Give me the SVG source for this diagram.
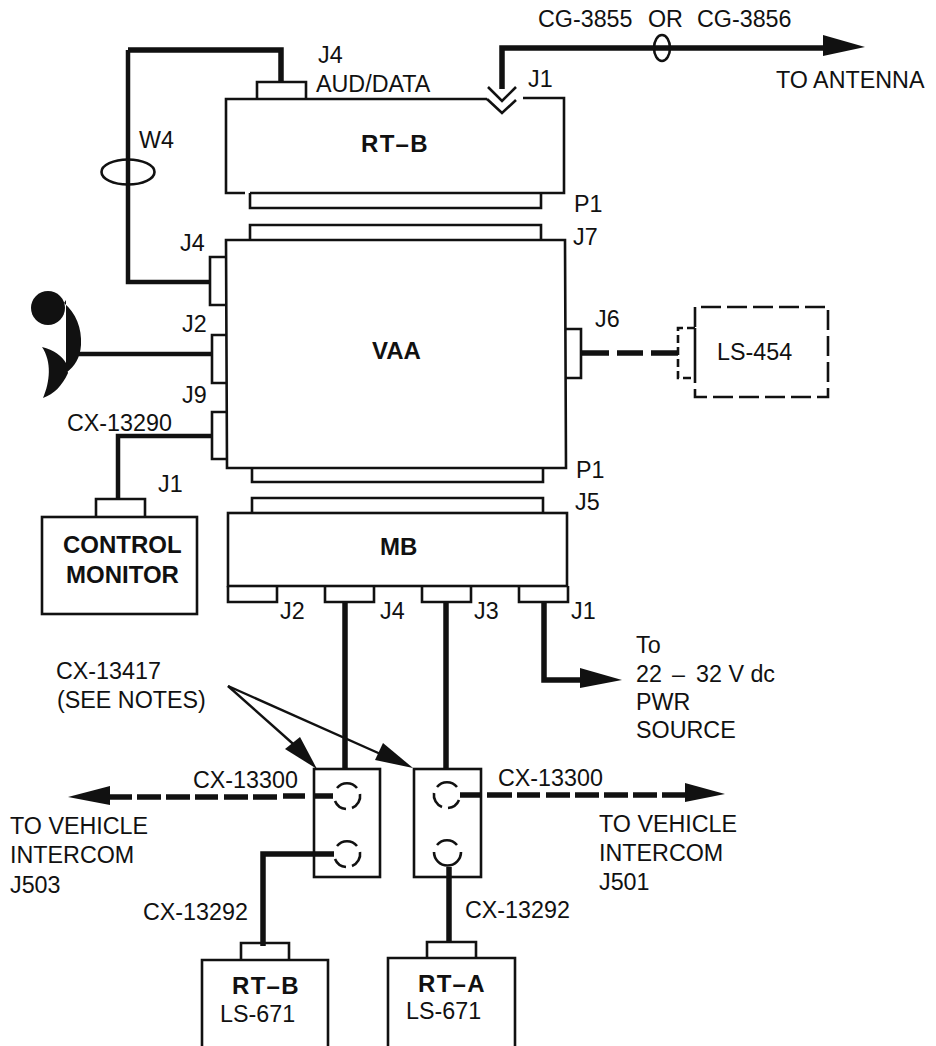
<svg xmlns="http://www.w3.org/2000/svg" width="936" height="1046" viewBox="0 0 936 1046">
<defs>
<style>
text{font-family:"Liberation Sans",Arial,sans-serif;font-size:23.3px;fill:#111}
.b{font-weight:bold;font-size:24px}
.rt{letter-spacing:1.3px}
.box{fill:none;stroke:#111;stroke-width:2.6}
.c{fill:none;stroke:#111;stroke-width:4.500}
.t{fill:none;stroke:#111;stroke-width:5.500}
.l{fill:none;stroke:#111;stroke-width:2.400}
.a{fill:#111;stroke:none}
.dash{stroke-dasharray:8 4}
</style>
<path id="jack" class="box" d="M-10-8A13 13 0 0 1 10-8M13-2A13 13 0 0 1 5 12M-1 13A13 13 0 0 1-12 5"/>
</defs>
<rect width="936" height="1046" fill="#fff"/>
<g id="connectors">
<path class="t" d="M281 82V50H128"/>
<path class="c" d="M128 50V282H210"/>
<ellipse cx="128" cy="172" rx="26.500" ry="12.500" class="box"/>
<path class="t" d="M502 89V48H830"/>
<path class="a" d="M823 35L865 47L823 56Z"/>
<ellipse cx="662" cy="48" rx="8" ry="13" class="box"/>
<path class="c" d="M78 354H211"/>
<path class="c" d="M213 436H118V499"/>
<path class="t" d="M581 353H609M617 353H643M651 353H678"/>
<path class="t" d="M345 602V770"/>
<path class="t" d="M446 602V769"/>
<path class="t" d="M544 602V680H590"/>
<path class="a" d="M580 668L622 680L580 688Z"/>
<path class="t" d="M333 796H313M305 796H283M277 797H253M248 797H224M218 797H195M190 797H166M161 797H137M132 797H108"/>
<path class="a" d="M68 797L110 786V805Z"/>
<path class="t" d="M334 854H263V946"/>
<path class="t" d="M460 795H482M487 795H512M517 795H540M546 795H570M575 795H599M604 795H628M633 795H657M662 795H690"/>
<path class="a" d="M725 794L685 783V802Z"/>
<path class="t" d="M449 867V943"/>
<path class="l" d="M228 686L300 750"/>
<path class="l" d="M228 686L385 756"/>
<path class="a" d="M317 769L285 749L300 737Z"/>
<path class="a" d="M413 768L375 760L383 743Z"/>
</g>
<g id="rtb-main"><path class="box" d="M487 99H226V193H245M250 193H564V98H523"/><path class="box" d="M257 99V82H306V99"/><path class="box" d="M250 193V208H541V193"/><path class="box" d="M488 87L502 101L516 87M487 99L502 113L516 100"/><text x="361" y="152" class="b rt">RT–B</text></g>
<g id="vaa"><path class="box" d="M226 240H565L566 468H227Z"/><path class="box" d="M250 240V225H541V240"/><path class="box" d="M226 257H210V305H226M226 335H212V383H226M227 412H212V459H227"/><path class="box" d="M566 329H581V378H566"/><path class="box" d="M252 468V482H543V468"/><text x="372" y="359" class="b">VAA</text></g>
<g id="ls454"><path class="box" d="M695 327V307H828V397H695V378" stroke-dasharray="20 6"/><path class="box dash" d="M695 328H678V378H695"/><path class="box" d="M695 328V378"/><text x="717" y="360">LS-454</text></g>
<g id="control-monitor"><rect class="box" x="42" y="517" width="155" height="97"/><path class="box" d="M96 517V499H145V517"/><text x="63" y="553" class="b">CONTROL</text><text x="66" y="583" class="b">MONITOR</text></g>
<g id="mb"><rect class="box" x="228" y="513" width="339" height="73"/><path class="box" d="M252 513V498H543V513"/><path class="box" d="M228 586V602H277V586M325 586V602H374V586M422 586V602H471V586M519 586V602H568V586"/><text x="380" y="555" class="b">MB</text></g>
<g id="mic"><circle cx="48" cy="308" r="17" class="a"/><path class="a" d="M64 303C76 313 82 328 81 345C80 358 75 366 66 373V300ZM42 347C54 350 62 356 66 363L68 373C62 386 54 394 43 398C50 382 52 362 42 347Z"/></g>
<g id="jb1"><rect class="box" x="314" y="769" width="66" height="108"/><use href="#jack" x="347" y="796"/><use href="#jack" x="347" y="854"/></g>
<g id="jb2"><rect class="box" x="414" y="769" width="67" height="108"/><use href="#jack" transform="translate(447 795) scale(-1 1)"/><path class="box" d="M437 845A13 13 0 0 1 457 845M434 852A13.500 13.500 0 0 0 461 852"/></g>
<g id="rtb-ls"><path class="box" d="M202 1046V960H328V1046"/><path class="box" d="M241 960V943H289V960"/><text x="232" y="994" class="b rt">RT–B</text><text x="220" y="1022">LS-671</text></g>
<g id="rta-ls"><path class="box" d="M388 1046V958H515V1046"/><path class="box" d="M427 958V942H476V958"/><text x="418" y="992" class="b rt">RT–A</text><text x="406" y="1019">LS-671</text></g>
<g id="labels">
<text x="538" y="27">CG-3855</text><text x="648" y="27">OR</text><text x="697" y="27">CG-3856</text>
<text x="776" y="88">TO ANTENNA</text>
<text x="318" y="63">J4</text><text x="316" y="92">AUD/DATA</text><text x="528" y="87">J1</text>
<text x="139" y="148">W4</text><text x="574" y="212">P1</text><text x="573" y="245">J7</text>
<text x="180" y="251">J4</text><text x="182" y="332">J2</text><text x="182" y="403">J9</text><text x="67" y="431">CX-13290</text><text x="595" y="327">J6</text>
<text x="576" y="478">P1</text><text x="575" y="510">J5</text><text x="158" y="492">J1</text>
<text x="280" y="619">J2</text><text x="380" y="619">J4</text><text x="474" y="619">J3</text><text x="571" y="619">J1</text>
<text x="636" y="653">To</text><text x="636" y="682">22 <tspan x="672">–</tspan> <tspan x="696">32 V dc</tspan></text><text x="636" y="710">PWR</text><text x="636" y="738">SOURCE</text>
<text x="56" y="679">CX-13417</text><text x="57" y="708">(SEE NOTES)</text>
<text x="193" y="788">CX-13300</text><text x="498" y="786">CX-13300</text>
<text x="10" y="834">TO VEHICLE</text><text x="10" y="863">INTERCOM</text><text x="10" y="893">J503</text>
<text x="599" y="832">TO VEHICLE</text><text x="599" y="861">INTERCOM</text><text x="599" y="890">J501</text>
<text x="143" y="920">CX-13292</text><text x="465" y="918">CX-13292</text>
</g>
</svg>
